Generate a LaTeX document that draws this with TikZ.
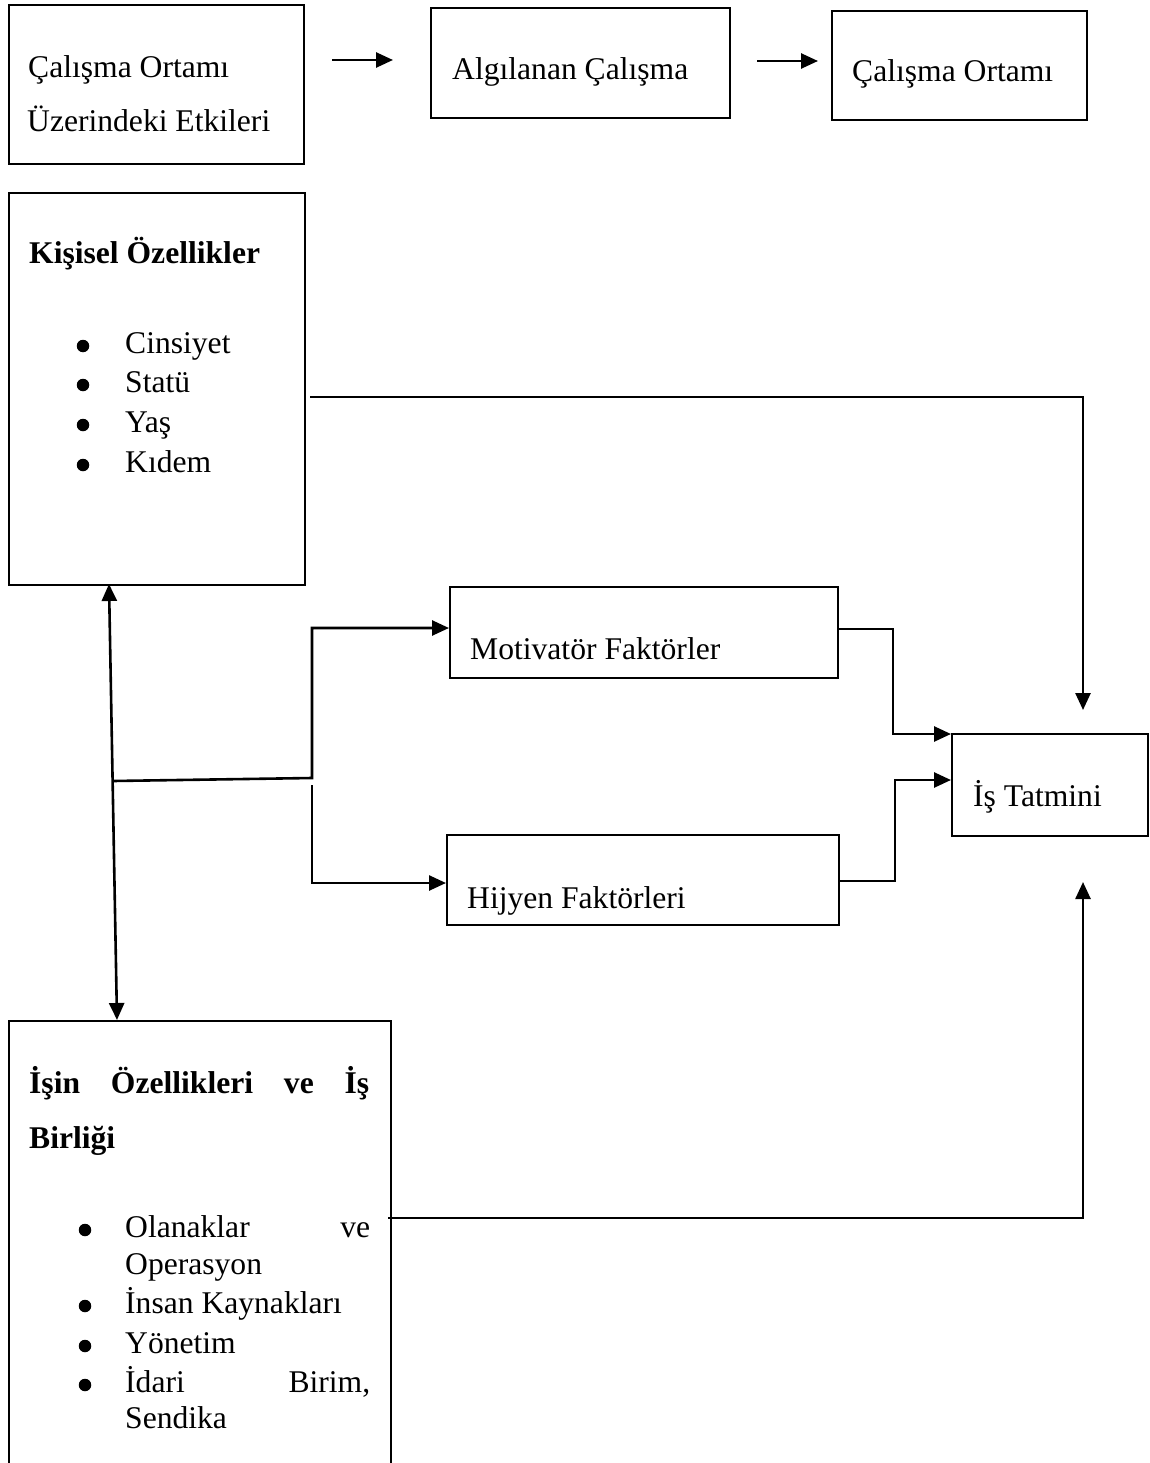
\documentclass[tikz,border=0pt]{standalone}
\usepackage{fontspec}
\setmainfont{Liberation Serif}
\usetikzlibrary{arrows.meta}
\tikzset{
  box/.style={draw, line width=1.8pt, rectangle, inner sep=0pt, anchor=north west},
  txt/.style={anchor=base west, inner sep=0pt, font=\fontsize{31.6}{38}\selectfont},
  dot/.style={circle, fill=black, inner sep=0pt, minimum size=12.5pt},
  arr/.style={line width=2.6pt, -{Triangle[length=17pt,width=15pt]}},
  darr/.style={line width=2.6pt, {Triangle[length=17pt,width=15pt]}-{Triangle[length=17pt,width=15pt]}}
}
\begin{document}
\begin{tikzpicture}[x=1pt, y=-1pt]
\useasboundingbox (0,0) rectangle (1149,1463);
\fill[white] (0,0) rectangle (1149,1463);
\clip (0,0) rectangle (1149,1463);

% boxes
\node[box, minimum width=295pt, minimum height=159pt] (boxA) at (8,4) {};
\node[box, minimum width=299pt, minimum height=110pt] (boxB) at (430,7) {};
\node[box, minimum width=255pt, minimum height=109pt] (boxC) at (831,10) {};
\node[box, minimum width=296pt, minimum height=392pt] (kisisel) at (8,192) {};
\node[box, minimum width=388pt, minimum height=91pt] (motiv) at (449,586) {};
\node[box, minimum width=392pt, minimum height=90pt] (hijyen) at (446,834) {};
\node[box, minimum width=196pt, minimum height=102pt] (tatmin) at (951,733) {};
\node[box, minimum width=382pt, minimum height=470pt] (isin) at (8,1020) {};

% texts top row
\node[txt] (ta1) at (28,78) {Çalışma Ortamı};
\node[txt] (ta2) at (27,132) {Üzerindeki Etkileri};
\node[txt] (tb) at (452,80) {Algılanan Çalışma};
\node[txt] (tc) at (852,82) {Çalışma Ortamı};

% Kişisel Özellikler
\node[txt] (td) at (29,263) {\bfseries Kişisel Özellikler};
\node[dot] (d1) at (83,346) {};
\node[txt] (td1) at (125,353) {Cinsiyet};
\node[dot] (d2) at (83,385) {};
\node[txt] (td2) at (125,392) {Statü};
\node[dot] (d3) at (83,425) {};
\node[txt] (td3) at (125,432) {Yaş};
\node[dot] (d4) at (83,465) {};
\node[txt] (td4) at (125,472) {Kıdem};

% middle boxes
\node[txt] (tm) at (470,659) {Motivatör Faktörler};
\node[txt] (th) at (467,908) {Hijyen Faktörleri};
\node[txt] (tt) at (973,806) {İş Tatmini};

% İşin Özellikleri
\node[txt] (ti1) at (29,1093) {\hbox to 340pt{\bfseries İşin\hfill Özellikleri\hfill ve\hfill İş}};
\node[txt] (ti2) at (29,1148) {\bfseries Birliği};
\node[dot] (e1) at (85,1230) {};
\node[txt] (te1) at (125,1237) {\hbox to 245pt{Olanaklar\hfill ve}};
\node[txt] (te2) at (125,1274) {Operasyon};
\node[dot] (e3) at (85,1306) {};
\node[txt] (te3) at (125,1313) {İnsan Kaynakları};
\node[dot] (e4) at (85,1346) {};
\node[txt] (te4) at (125,1353) {Yönetim};
\node[dot] (e5) at (85,1385) {};
\node[txt] (te5) at (125,1392) {\hbox to 245pt{İdari\hfill Birim,}};
\node[txt] (te6) at (125,1428) {Sendika};

% connector coordinates
\coordinate (a1s) at (332,60);
\coordinate (a1e) at (393,60);
\coordinate (a2s) at (757,61);
\coordinate (a2e) at (818,61);
\coordinate (ks) at (310,397);
\coordinate (kt) at (1083,710);
\coordinate (vt) at (109,584);
\coordinate (vb) at (117,1020);
\coordinate (j1) at (113,781);
\coordinate (j2) at (312,778);
\coordinate (j3) at (312,628);
\coordinate (mi) at (449,628);
\coordinate (j4) at (312,785);
\coordinate (j5) at (312,883);
\coordinate (hi) at (446,883);
\coordinate (mo) at (837,629);
\coordinate (m2) at (893,629);
\coordinate (m3) at (893,734);
\coordinate (ti) at (951,734);
\coordinate (ho) at (838,881);
\coordinate (h2) at (895,881);
\coordinate (h3) at (895,780);
\coordinate (ti2c) at (951,780);
\coordinate (is) at (388,1218);
\coordinate (ib) at (1083,1218);
\coordinate (it) at (1083,882);

% connectors
\draw[arr] (a1s) -- (a1e);
\draw[arr] (a2s) -- (a2e);
\draw[arr] (ks) -| (kt);
\draw[darr] (vt) -- (vb);
\draw[arr] (j1) -- (j2) -- (j3) -- (mi);
\draw[arr] (j4) -- (j5) -- (hi);
\draw[arr] (mo) -- (m2) -- (m3) -- (ti);
\draw[arr] (ho) -- (h2) -- (h3) -- (ti2c);
\draw[arr] (is) -- (ib) -- (it);
\end{tikzpicture}
\end{document}
